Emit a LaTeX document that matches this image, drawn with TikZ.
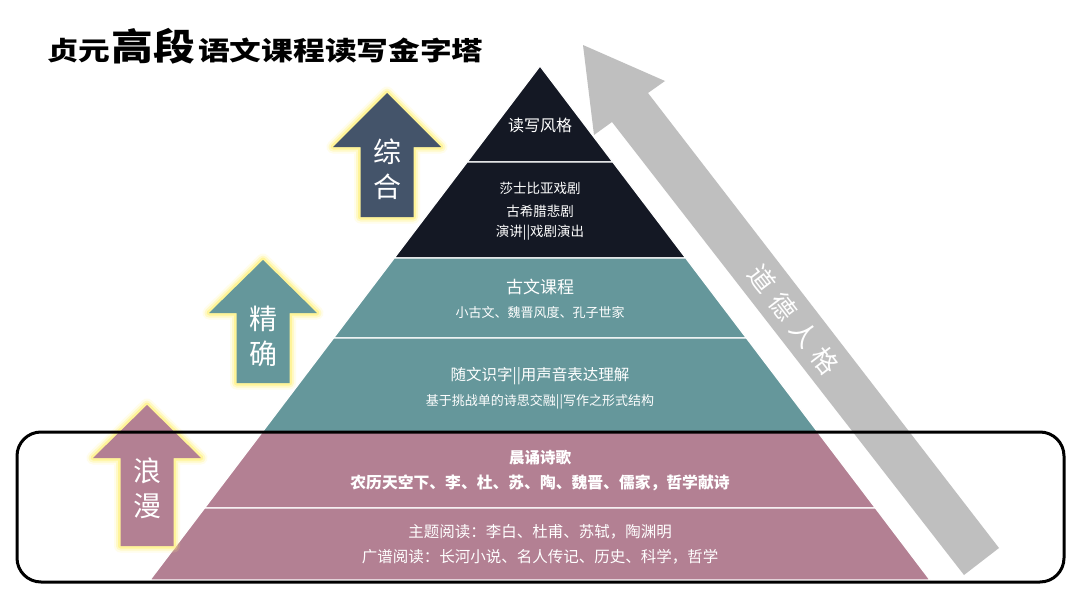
\documentclass[tikz,border=0pt]{standalone}
\usepackage{fontspec}
\setmainfont{Noto Sans CJK SC}
\newfontfamily\cjk{Noto Sans CJK SC}
\newfontfamily\cjkspaced[LetterSpace=32]{Noto Sans CJK SC}
\definecolor{topdark}{HTML}{141824}
\definecolor{tealc}{HTML}{65979B}
\definecolor{pinkc}{HTML}{B38093}
\definecolor{slatec}{HTML}{44546A}
\definecolor{grayarr}{HTML}{BFBFBF}
\definecolor{glowc}{HTML}{FFF27A}
\tikzset{
  layer/.style={draw=white, line width=1.2pt},
  ptext/.style={text=white, inner sep=0pt, font=\cjk\fontsize{#1}{#1}\selectfont},
  pbold/.style={text=white, inner sep=0pt, font=\cjk\bfseries\fontsize{#1}{#1}\selectfont},
  uparr/.style={fill=#1, line join=round,
    preaction={draw=glowc, line width=13pt, opacity=0.15, line join=round},
    preaction={draw=glowc, line width=9pt, opacity=0.3, line join=round},
    preaction={draw=glowc, line width=5pt, opacity=0.6, line join=round}},
  arrtext/.style={text=white, inner sep=0pt, align=center, font=\cjk\fontsize{28}{35}\selectfont},
  titlefont/.style={inner sep=0pt, anchor=base west, font=\cjk\bfseries\fontsize{#1}{#1}\selectfont},
}
\begin{document}
\begin{tikzpicture}[x=1pt,y=-1pt]
\fill[white] (0,0) rectangle (1080,608);
\useasboundingbox (0,0) rectangle (1080,608);

% title
\node[titlefont=26] (t1) at (47,60) {\scalebox{1.22}[1]{贞元}};
\node[titlefont=37] (t2) at (111,60) {\scalebox{1.13}[1]{高段}};
\node[titlefont=26] (t3) at (198,60) {\scalebox{1.22}[1]{语文课程读写金字塔}};

% pyramid layers
\coordinate (apex) at (540,66);
\path[layer, fill=topdark] (apex) -- (612.8,162) -- (467.2,162) -- cycle;
\path[layer, fill=topdark] (467.2,162) -- (612.8,162) -- (685.7,258) -- (394.3,258) -- cycle;
\path[layer, fill=tealc] (394.3,258) -- (685.7,258) -- (746.4,338) -- (333.6,338) -- cycle;
\path[layer, fill=tealc] (333.6,338) -- (746.4,338) -- (817.7,432) -- (262.3,432) -- cycle;
\path[layer, fill=pinkc] (262.3,432) -- (817.7,432) -- (875.4,508) -- (204.6,508) -- cycle;
\path[layer, fill=pinkc] (204.6,508) -- (875.4,508) -- (930,580) -- (150,580) -- cycle;

% pyramid texts
\node[ptext=16] (l1) at (540,125) {读写风格};
\node[ptext=13.5] (l2a) at (540,188) {莎士比亚戏剧};
\node[ptext=13.5] (l2b) at (540,211) {古希腊悲剧};
\node[ptext=13.5] (l2c) at (540,233) {演讲||戏剧演出};
\node[ptext=17] (l3a) at (540,287) {古文课程};
\node[ptext=13] (l3b) at (540,313) {小古文、魏晋风度、孔子世家};
\node[ptext=15.5] (l4a) at (540,376) {随文识字||用声音表达理解};
\node[ptext=13] (l4b) at (540,402) {基于挑战单的诗思交融||写作之形式结构};
\node[pbold=15.5] (l5a) at (540,458) {晨诵诗歌};
\node[pbold=15.8] (l5b) at (540,483) {农历天空下、李、杜、苏、陶、魏晋、儒家，哲学献诗};
\node[ptext=15.5] (l6a) at (540,532) {主题阅读：李白、杜甫、苏轼，陶渊明};
\node[ptext=15.5] (l6b) at (540,557) {广谱阅读：长河小说、名人传记、历史、科学，哲学};

% gray diagonal arrow
\fill[grayarr] (583,45) -- (665,81) -- (648,93) -- (999,548) -- (964,575) -- (612,122) -- (594,135) -- cycle;
\node[text=white, inner sep=0pt, rotate=-52.4, font=\cjkspaced\fontsize{26}{26}\selectfont] (moral) at (794,320)
  {道德人格};

% left up arrows
\path[uparr=slatec] (387,93) -- (441,147) -- (413.5,147) -- (413.5,217) -- (360.5,217) -- (360.5,147) -- (333,147) -- cycle;
\node[arrtext] (a1) at (387,169) {综\\合};
\path[uparr=tealc] (263,260) -- (317,313) -- (289.5,313) -- (289.5,383) -- (236.5,383) -- (236.5,313) -- (209,313) -- cycle;
\node[arrtext] (a2) at (263,336) {精\\确};
\path[uparr=pinkc] (147,405) -- (201,458) -- (173.5,458) -- (173.5,546) -- (120.5,546) -- (120.5,458) -- (93,458) -- cycle;
\node[arrtext] (a3) at (147,488) {浪\\漫};

% frame
\draw[line width=3pt, rounded corners=24pt] (17,432) rectangle (1064,582);
\end{tikzpicture}
\end{document}
